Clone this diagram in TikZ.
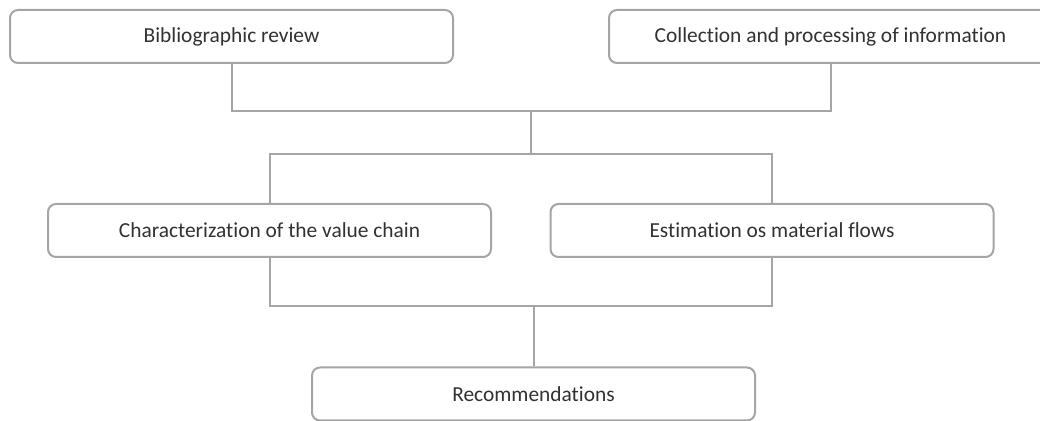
\documentclass[tikz,border=0pt]{standalone}
\usepackage{fontspec}
\setmainfont{Carlito}[Ligatures=NoCommon]
\usetikzlibrary{positioning, calc}
\definecolor{linegray}{RGB}{165,165,165}
\definecolor{textgray}{RGB}{50,50,50}
\tikzset{
    stepbox/.style={draw=linegray, line width=1pt, rounded corners=4pt, fill=white, minimum width=221.5pt, minimum height=26.5pt, font=\fontsize{10.7}{13}\selectfont, text=textgray},
    link/.style={draw=linegray, line width=1pt}
}

\begin{document}
\begin{tikzpicture}[x=0.5pt, y=-0.5pt]
        % Canvas (boxes run past the right and bottom edge)
        \useasboundingbox (0,0) rectangle (1040,421);
        \clip (0,0) rectangle (1040,421);

        % Connectors first, boxes drawn over them
        \coordinate (revpt) at (231.5,63);
        \coordinate (colpt) at (830.5,63);
        \coordinate (topjoin) at ($(revpt)!0.5!(colpt) + (0,48)$);
        \coordinate (split) at ($(topjoin) + (0,43)$);

        % Input stages
        \node[stepbox] (review) at (231.5,36.5) {Bibliographic review};
        \node[stepbox] (collect) at (830.5,36.5) {Collection and processing of information};

        % Analysis stages
        \node[stepbox] (chain) at (269.5,230.5) {Characterization of the value chain};
        \node[stepbox] (flows) at (772,230.5) {Estimation os material flows};

        % Result
        \node[stepbox] (recom) at (533.5,394) {Recommendations};

        % Inputs merge
        \draw[link] (review.south) |- (topjoin) -| (collect.south);
        \draw[link] (topjoin) -- (split);
        \draw[link] (chain.north) |- (split) -| (flows.north);

        % Analysis merge into result
        \draw[link] (recom.north) -- ++(0,-60) coordinate (merge);
        \draw[link] (chain.south) |- (merge) -| (flows.south);
\end{tikzpicture}
\end{document}
